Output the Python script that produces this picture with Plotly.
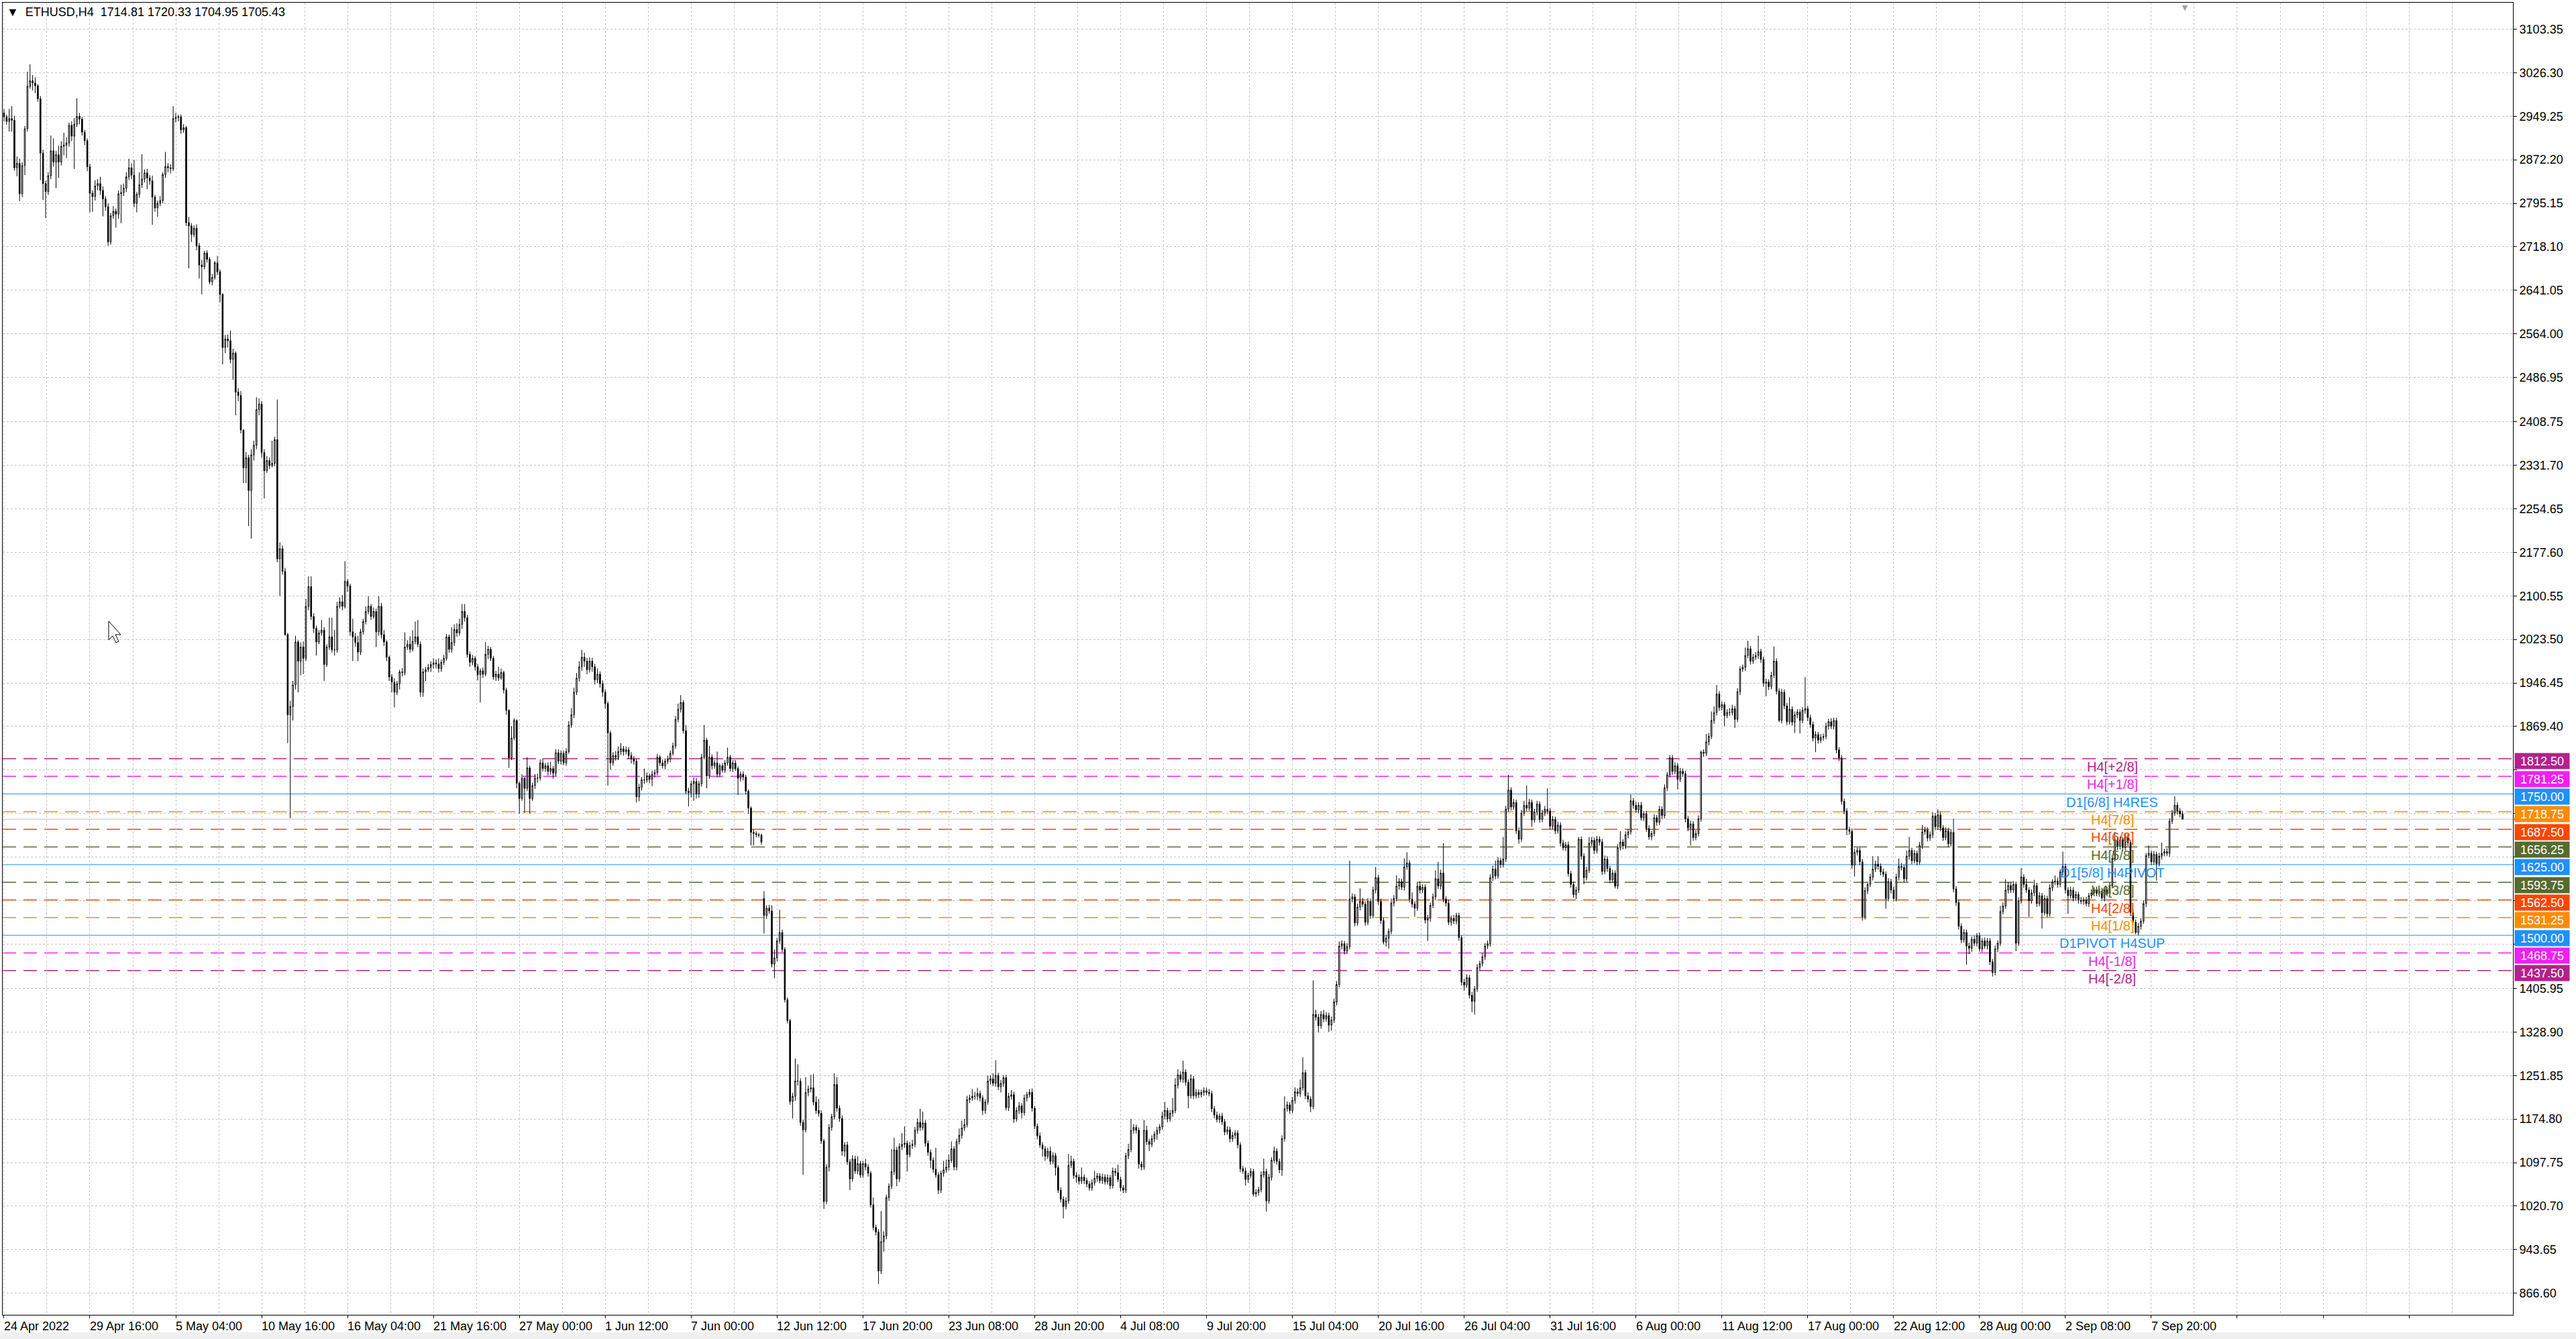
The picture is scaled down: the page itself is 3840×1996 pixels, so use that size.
import plotly.graph_objects as go

# ---------------- data ----------------
symbol_title = "ETHUSD,H4"
last_ohlc = [1714.81, 1720.33, 1704.95, 1705.43]
first_open = 2955.0
gap_opens = {292: 1565.0}

closes = [
    2948, 2940, 2945, 2942, 2858, 2866, 2812, 2862, 2927, 3002,
    3012, 3008, 3003, 2980, 2884, 2830, 2816, 2844, 2888, 2868,
    2881, 2868, 2896, 2898, 2902, 2933, 2914, 2935, 2949, 2944,
    2921, 2906, 2860, 2813, 2807, 2826, 2830, 2818, 2803, 2789,
    2727, 2773, 2781, 2776, 2812, 2814, 2822, 2842, 2858, 2845,
    2795, 2811, 2828, 2838, 2849, 2840, 2835, 2806, 2787, 2795,
    2800, 2846, 2860, 2858, 2856, 2945, 2947, 2948, 2925, 2929,
    2761, 2755, 2740, 2751, 2720, 2686, 2683, 2707, 2696, 2656,
    2664, 2690, 2674, 2634, 2540, 2555, 2552, 2519, 2530, 2461,
    2455, 2394, 2327, 2345, 2287, 2350, 2367, 2430, 2440, 2354,
    2322, 2340, 2331, 2335, 2377, 2166, 2184, 2144, 2032, 1890,
    1905, 1943, 2019, 1985, 2010, 1990, 2082, 2117, 2064, 2043,
    2019, 2035, 2040, 1979, 2010, 2028, 2005, 2005, 2082, 2090,
    2082, 2126, 2118, 2037, 2028, 2018, 2001, 2037, 2055, 2073,
    2082, 2064, 2073, 2037, 2082, 2032, 2019, 1992, 1957, 1948,
    1930, 1945, 1966, 1965, 2010, 2015, 2006, 2020, 2028, 2015,
    1930, 1966, 1970, 1974, 1979, 1982, 1980, 1972, 1983, 1990,
    2028, 2006, 2018, 2041, 2035, 2050, 2073, 2062, 1997, 1983,
    1990, 1975, 1961, 1968, 1962, 1997, 2006, 1990, 1957, 1962,
    1955, 1965, 1934, 1898, 1814, 1849, 1880, 1769, 1742, 1778,
    1760, 1796, 1742, 1765, 1778, 1778, 1805, 1795, 1800, 1790,
    1795, 1787, 1823, 1808, 1822, 1805, 1825, 1872, 1890, 1930,
    1955, 1975, 1992, 1985, 1970, 1985, 1975, 1952, 1962, 1945,
    1930, 1910, 1858, 1805, 1818, 1815, 1825, 1830, 1825, 1828,
    1818, 1812, 1808, 1745, 1762, 1775, 1775, 1782, 1776, 1785,
    1788, 1815, 1805, 1800, 1808, 1812, 1822, 1835, 1882, 1900,
    1912, 1862, 1755, 1752, 1768, 1772, 1750, 1768, 1815, 1845,
    1782, 1815, 1800, 1805, 1785, 1800, 1792, 1805, 1815, 1795,
    1805, 1795, 1778, 1785, 1780, 1755, 1725, 1682, 1680, 1678,
    1677, 1665, 1535, 1548, 1543, 1449, 1460, 1490, 1505, 1475,
    1386, 1349, 1206, 1215, 1242, 1242, 1169, 1156, 1222, 1228,
    1230, 1205, 1190, 1185, 1136, 1029, 1090, 1160, 1179, 1236,
    1194, 1176, 1118, 1129, 1099, 1069, 1104, 1083, 1096, 1076,
    1096, 1090, 1079, 1023, 983, 975, 906, 958, 968, 1036,
    1056, 1082, 1120, 1069, 1126, 1130, 1132, 1112, 1128, 1130,
    1155, 1169, 1160, 1168, 1132, 1116, 1102, 1086, 1076, 1049,
    1079, 1085, 1090, 1102, 1122, 1090, 1135, 1146, 1159, 1165,
    1209, 1212, 1215, 1215, 1220, 1212, 1190, 1205, 1242, 1246,
    1238, 1252, 1232, 1238, 1248, 1195, 1215, 1218, 1175, 1190,
    1198, 1186, 1212, 1218, 1222, 1194, 1162, 1145, 1129, 1122,
    1109, 1118, 1100, 1110, 1089, 1049, 1033, 1020, 1030, 1093,
    1100, 1075, 1072, 1065, 1072, 1066, 1060, 1053, 1062, 1070,
    1074, 1066, 1072, 1064, 1071, 1057, 1083, 1080, 1068, 1053,
    1049, 1110, 1121, 1155, 1160, 1155, 1095, 1090, 1155, 1135,
    1130, 1140, 1148, 1155, 1161, 1180, 1190, 1175, 1185, 1190,
    1235, 1253, 1245, 1258, 1240, 1216, 1246, 1216, 1222, 1218,
    1222, 1225, 1222, 1220, 1193, 1182, 1174, 1180, 1170, 1152,
    1156, 1140, 1146, 1150, 1129, 1087, 1083, 1068, 1075, 1082,
    1042, 1045, 1050, 1076, 1082, 1030, 1072, 1102, 1118, 1100,
    1085, 1140, 1193, 1200, 1190, 1208, 1223, 1220, 1230, 1257,
    1216, 1210, 1197, 1360, 1355, 1340, 1360, 1352, 1358, 1341,
    1350, 1382, 1413, 1481, 1485, 1472, 1480, 1564, 1568, 1522,
    1550, 1560, 1555, 1523, 1560, 1535, 1580, 1602, 1560, 1526,
    1488, 1495, 1507, 1557, 1565, 1587, 1595, 1585, 1621, 1628,
    1564, 1555, 1548, 1587, 1580, 1585, 1527, 1530, 1553, 1568,
    1600, 1587, 1610, 1564, 1557, 1523, 1530, 1525, 1535, 1496,
    1417, 1412, 1425, 1394, 1383, 1405, 1443, 1450, 1462, 1481,
    1485, 1602, 1617, 1605, 1632, 1625, 1635, 1723, 1757, 1727,
    1735, 1685, 1670, 1716, 1730, 1725, 1735, 1704, 1718, 1732,
    1705, 1716, 1723, 1720, 1693, 1705, 1685, 1695, 1663, 1655,
    1660, 1609, 1590, 1572, 1580, 1670, 1640, 1602, 1615, 1663,
    1668, 1650, 1670, 1665, 1613, 1635, 1618, 1598, 1610, 1587,
    1655, 1665, 1658, 1678, 1683, 1738, 1730, 1722, 1730, 1708,
    1715, 1689, 1674, 1680, 1708, 1700, 1723, 1712, 1761, 1784,
    1814, 1790, 1800, 1776, 1790, 1786, 1706, 1690, 1697, 1673,
    1680, 1706, 1824, 1822, 1842, 1852, 1880, 1894, 1927, 1903,
    1908, 1889, 1894, 1894, 1901, 1882, 1931, 1971, 1974, 1995,
    2007, 1985, 1992, 1995, 2002, 1988, 1946, 1948, 1940, 1960,
    1985, 1932, 1880, 1930, 1906, 1878, 1900, 1877, 1890, 1895,
    1880, 1898, 1901, 1885, 1873, 1849, 1855, 1845, 1850, 1852,
    1870, 1878, 1870, 1880, 1828, 1814, 1737, 1720, 1687, 1684,
    1624, 1647, 1650, 1630, 1533, 1579, 1590, 1603, 1617, 1626,
    1622, 1612, 1608, 1565, 1595, 1580, 1565, 1603, 1622, 1620,
    1600, 1640, 1650, 1632, 1645, 1630, 1659, 1683, 1686, 1672,
    1678, 1711, 1692, 1713, 1690, 1673, 1685, 1662, 1682, 1582,
    1558, 1516, 1492, 1505, 1481, 1477, 1493, 1486, 1499, 1476,
    1490, 1481, 1490, 1453, 1434, 1476, 1486, 1542, 1552, 1580,
    1588, 1580, 1590, 1486, 1561, 1603, 1590, 1580, 1561, 1575,
    1588, 1556, 1570, 1540, 1565, 1538, 1584, 1594, 1596, 1590,
    1612, 1622, 1580, 1570, 1580, 1566, 1572, 1562, 1560, 1562,
    1556, 1570, 1575, 1580, 1574, 1578, 1566, 1580, 1574, 1588,
    1636, 1669, 1657, 1669, 1655, 1674, 1664, 1540, 1523, 1505,
    1516, 1525, 1556, 1641, 1645, 1630, 1643, 1627, 1640, 1645,
    1648, 1645, 1702, 1716, 1730, 1720, 1714.81, 1705.43,
]

upper_wick = [
    7, 4, 17, 22, 8, 12, 8, 6, 5, 26,
    29, 10, 10, 3, 5, 6, 5, 6, 27, 22,
    7, 16, 9, 22, 10, 5, 7, 11, 32, 6,
    4, 4, 4, 5, 5, 10, 8, 12, 7, 5,
    6, 5, 9, 5, 6, 14, 8, 8, 16, 8,
    27, 4, 22, 44, 6, 7, 5, 9, 4, 5,
    8, 4, 26, 6, 6, 22, 8, 4, 4, 6,
    3, 10, 5, 5, 7, 5, 9, 4, 5, 4,
    6, 3, 12, 4, 2, 7, 8, 18, 8, 3,
    7, 8, 1, 10, 5, 10, 8, 22, 10, 5,
    6, 8, 5, 40, 5, 71, 11, 6, 6, 3,
    10, 7, 11, 3, 8, 10, 13, 18, 18, 6,
    5, 5, 18, 5, 5, 34, 34, 35, 8, 8,
    12, 36, 4, 4, 23, 7, 12, 5, 5, 9,
    18, 4, 7, 5, 18, 6, 8, 3, 3, 5,
    7, 5, 4, 7, 26, 7, 14, 20, 27, 30,
    5, 6, 5, 6, 6, 8, 6, 10, 5, 6,
    5, 4, 27, 9, 11, 10, 13, 13, 5, 5,
    6, 4, 5, 4, 6, 22, 6, 4, 4, 6,
    13, 7, 3, 4, 2, 21, 4, 2, 3, 7,
    2, 19, 4, 5, 7, 8, 6, 8, 5, 6,
    12, 5, 6, 6, 5, 5, 6, 7, 12, 8,
    9, 10, 13, 8, 6, 7, 6, 5, 10, 5,
    6, 5, 4, 4, 6, 8, 9, 10, 5, 6,
    5, 6, 5, 4, 6, 5, 20, 6, 4, 6,
    5, 6, 4, 6, 5, 6, 5, 6, 6, 10,
    13, 4, 10, 6, 5, 7, 6, 5, 6, 27,
    4, 20, 5, 5, 20, 4, 5, 5, 17, 4,
    5, 5, 4, 5, 5, 4, 3, 3, 5, 4,
    3, 3, 13, 5, 6, 10, 15, 5, 40, 5,
    4, 4, 3, 6, 40, 30, 5, 5, 27, 6,
    23, 25, 10, 20, 5, 4, 5, 6, 5, 20,
    13, 5, 5, 5, 6, 5, 7, 6, 13, 5,
    5, 8, 5, 4, 13, 5, 5, 54, 8, 5,
    5, 40, 22, 6, 6, 20, 30, 5, 6, 8,
    6, 7, 24, 20, 5, 5, 5, 5, 38, 5,
    5, 16, 13, 10, 13, 5, 5, 12, 13, 10,
    7, 6, 13, 8, 10, 5, 5, 5, 10, 6,
    10, 27, 5, 6, 5, 5, 6, 8, 5, 6,
    7, 5, 6, 5, 6, 7, 4, 5, 6, 5,
    5, 6, 8, 6, 5, 4, 5, 5, 6, 20,
    10, 5, 6, 5, 17, 5, 5, 5, 6, 13,
    5, 5, 6, 5, 6, 5, 6, 5, 14, 5,
    5, 5, 10, 20, 6, 5, 5, 5, 18, 8,
    5, 6, 5, 6, 5, 8, 15, 5, 6, 22,
    12, 10, 6, 20, 5, 5, 8, 5, 6, 5,
    5, 6, 5, 6, 5, 5, 6, 5, 6, 5,
    6, 5, 6, 5, 5, 5, 5, 6, 5, 6,
    5, 6, 5, 6, 23, 5, 6, 5, 8, 5,
    5, 6, 22, 6, 5, 6, 8, 6, 15, 27,
    5, 6, 5, 60, 8, 6, 6, 8, 6, 5,
    6, 6, 6, 8, 6, 5, 6, 68, 6, 5,
    6, 23, 6, 5, 6, 5, 6, 19, 5, 5,
    5, 6, 5, 8, 6, 19, 6, 5, 15, 19,
    5, 12, 5, 6, 8, 5, 5, 6, 5, 6,
    15, 30, 6, 53, 5, 6, 5, 6, 5, 5,
    4, 6, 6, 5, 6, 5, 6, 5, 6, 5,
    6, 6, 6, 15, 6, 5, 39, 6, 27, 5,
    6, 5, 6, 6, 8, 35, 6, 5, 6, 6,
    5, 6, 6, 37, 5, 6, 5, 6, 5, 6,
    5, 6, 5, 5, 6, 4, 5, 5, 6, 11,
    6, 5, 6, 5, 5, 6, 5, 5, 6, 5,
    6, 19, 5, 6, 5, 11, 5, 6, 5, 6,
    5, 5, 6, 5, 6, 5, 6, 5, 6, 5,
    5, 5, 6, 5, 6, 5, 5, 5, 6, 5,
    6, 6, 3, 5, 14, 6, 16, 11, 16, 5,
    6, 5, 6, 8, 7, 5, 6, 5, 5, 14,
    14, 5, 6, 6, 28, 5, 5, 6, 5, 6,
    26, 5, 5, 6, 5, 5, 21, 5, 6, 5,
    5, 6, 56, 5, 5, 5, 6, 5, 6, 5,
    6, 5, 6, 5, 5, 5, 5, 5, 5, 5,
    5, 6, 5, 5, 5, 6, 5, 6, 23, 6,
    14, 5, 6, 5, 6, 5, 6, 6, 14, 6,
    5, 10, 24, 5, 6, 5, 6, 12, 6, 5,
    6, 7, 5, 10, 5, 5, 6, 5, 6, 24,
    5, 5, 5, 6, 5, 6, 5, 6, 5, 6,
    5, 6, 5, 5, 5, 6, 5, 10, 6, 19,
    6, 5, 6, 5, 6, 16, 5, 10, 5, 6,
    10, 5, 6, 5, 6, 5, 6, 5, 10, 6,
    5, 26, 5, 5, 6, 5, 6, 5, 6, 5,
    6, 5, 6, 5, 6, 5, 6, 5, 6, 5,
    6, 14, 5, 6, 5, 6, 5, 5, 6, 5,
    6, 5, 6, 5, 14, 5, 6, 5, 6, 19,
    5, 6, 5, 6, 16, 5, 5, 5.52,
]

lower_wick = [
    8, 6, 18, 20, 5, 15, 13, 6, 17, 5,
    4, 13, 13, 5, 48, 29, 47, 6, 6, 8,
    46, 28, 6, 16, 23, 7, 9, 58, 5, 9,
    6, 8, 8, 34, 27, 7, 8, 8, 31, 7,
    7, 5, 5, 24, 8, 52, 6, 7, 6, 7,
    7, 16, 6, 6, 6, 20, 7, 49, 7, 16,
    5, 5, 6, 8, 8, 4, 7, 7, 7, 5,
    6, 75, 13, 5, 8, 24, 49, 5, 6, 4,
    6, 4, 6, 14, 30, 10, 12, 7, 36, 41,
    10, 6, 27, 27, 63, 85, 10, 7, 10, 9,
    49, 4, 6, 3, 5, 6, 66, 6, 2, 50,
    183, 25, 8, 55, 25, 28, 5, 7, 6, 8,
    24, 4, 5, 29, 4, 5, 5, 10, 5, 4,
    7, 4, 10, 7, 43, 8, 16, 5, 5, 5,
    5, 6, 4, 27, 7, 7, 7, 7, 7, 18,
    27, 5, 10, 7, 5, 5, 6, 4, 5, 5,
    8, 8, 16, 4, 8, 7, 8, 7, 6, 5,
    4, 6, 6, 6, 7, 5, 8, 7, 6, 8,
    5, 7, 10, 49, 7, 4, 8, 5, 5, 7,
    5, 3, 6, 8, 18, 4, 4, 9, 27, 4,
    44, 5, 27, 4, 6, 8, 4, 5, 6, 7,
    6, 10, 5, 5, 6, 4, 5, 4, 5, 6,
    5, 6, 7, 10, 8, 5, 9, 8, 6, 7,
    8, 9, 93, 12, 5, 6, 5, 6, 7, 5,
    6, 8, 6, 10, 8, 6, 7, 5, 7, 12,
    6, 5, 6, 5, 6, 5, 6, 4, 5, 5,
    6, 5, 5, 24, 8, 30, 8, 7, 5, 4,
    22, 5, 6, 5, 5, 5, 4, 5, 5, 5,
    6, 4, 30, 6, 6, 6, 10, 23, 21, 5,
    4, 5, 32, 6, 5, 6, 25, 6, 5, 5,
    5, 5, 6, 30, 8, 8, 6, 80, 5, 7,
    6, 6, 6, 6, 5, 13, 5, 8, 6, 5,
    6, 6, 8, 10, 5, 20, 5, 5, 6, 5,
    5, 6, 6, 5, 5, 6, 23, 5, 18, 6,
    6, 5, 6, 13, 6, 6, 6, 30, 5, 6,
    5, 6, 6, 5, 6, 6, 14, 6, 5, 7,
    5, 6, 5, 6, 5, 6, 6, 5, 6, 5,
    5, 6, 5, 6, 7, 6, 8, 6, 5, 6,
    5, 6, 6, 10, 6, 5, 6, 6, 7, 5,
    6, 10, 5, 6, 5, 6, 5, 6, 5, 14,
    8, 5, 6, 5, 14, 5, 6, 21, 5, 5,
    5, 6, 10, 6, 5, 6, 6, 5, 5, 5,
    6, 5, 6, 5, 5, 6, 5, 6, 5, 6,
    5, 5, 6, 5, 6, 6, 8, 6, 5, 6,
    12, 5, 6, 10, 6, 5, 6, 6, 5, 6,
    5, 6, 5, 6, 6, 22, 5, 6, 5, 6,
    5, 6, 5, 5, 6, 6, 5, 6, 6, 6,
    5, 6, 5, 6, 6, 6, 5, 11, 6, 5,
    4, 5, 6, 5, 5, 19, 5, 6, 5, 6,
    6, 11, 5, 5, 6, 5, 6, 5, 6, 5,
    6, 6, 10, 5, 6, 12, 5, 6, 5, 12,
    10, 5, 6, 5, 6, 6, 5, 5, 6, 6,
    5, 6, 5, 6, 5, 6, 5, 6, 6, 6,
    4, 8, 19, 5, 6, 5, 6, 5, 6, 5,
    6, 6, 15, 5, 6, 5, 6, 37, 6, 5,
    6, 5, 6, 6, 6, 5, 6, 5, 6, 6,
    6, 10, 5, 6, 19, 23, 5, 6, 5, 6,
    5, 5, 6, 6, 5, 6, 5, 5, 5, 6,
    5, 6, 8, 5, 5, 6, 5, 12, 5, 6,
    6, 5, 5, 6, 6, 5, 6, 5, 6, 5,
    6, 5, 6, 6, 8, 5, 6, 12, 5, 5,
    5, 6, 5, 6, 6, 5, 6, 6, 5, 4,
    5, 5, 6, 5, 6, 5, 6, 5, 6, 5,
    6, 6, 5, 6, 5, 6, 5, 6, 5, 6,
    5, 6, 5, 18, 5, 6, 6, 6, 31, 6,
    5, 5, 5, 6, 5, 6, 5, 6, 5, 6,
    5, 19, 5, 6, 5, 15, 5, 6, 5, 6,
    5, 6, 5, 5, 6, 6, 6, 23, 6, 5,
    5, 6, 3, 5, 6, 6, 5, 6, 19, 6,
    23, 5, 6, 6, 6, 6, 25, 6, 5, 6,
    5, 6, 5, 6, 6, 6, 6, 6, 10, 6,
    6, 20, 6, 6, 7, 5, 6, 5, 6, 5,
    6, 6, 5, 18, 5, 6, 5, 5, 6, 5,
    6, 5, 6, 6, 5, 6, 5, 6, 5, 6,
    5, 6, 6, 5, 6, 6, 5, 6, 5, 6,
    6, 6, 6, 5, 33, 10, 6, 5, 6, 5,
    6, 5, 6, 6, 7, 5, 6, 5, 5, 5,
    6, 5, 5, 14, 5, 5, 6, 5, 28, 5,
    6, 6, 5, 28, 5, 6, 5, 6, 5, 6,
    5, 6, 6, 32, 5, 6, 5, 6, 5, 6,
    5, 6, 5, 6, 5, 6, 5, 6, 5, 6,
    5, 5, 6, 5, 6, 5, 6, 6, 5, 3,
    5, 6, 5, 6, 5, 6, 5, 30, 5, 6,
    5, 5, 6, 5, 5, 6, 6, 0.48,
]

time_labels = [
    "24 Apr 2022", "29 Apr 16:00", "5 May 04:00", "10 May 16:00", "16 May 04:00",
    "21 May 16:00", "27 May 00:00", "1 Jun 12:00", "7 Jun 00:00", "12 Jun 12:00",
    "17 Jun 20:00", "23 Jun 08:00", "28 Jun 20:00", "4 Jul 08:00", "9 Jul 20:00",
    "15 Jul 04:00", "20 Jul 16:00", "26 Jul 04:00", "31 Jul 16:00", "6 Aug 00:00",
    "11 Aug 12:00", "17 Aug 00:00", "22 Aug 12:00", "28 Aug 00:00", "2 Sep 08:00",
    "7 Sep 20:00",
]
bars_per_label = 33

price_ticks = [3103.35, 3026.30, 2949.25, 2872.20, 2795.15, 2718.10, 2641.05, 2564.00,
               2486.95, 2408.75, 2331.70, 2254.65, 2177.60, 2100.55, 2023.50, 1946.45,
               1869.40, 1792.35, 1715.30, 1638.25, 1561.20, 1484.15, 1405.95, 1328.90,
               1251.85, 1174.80, 1097.75, 1020.70, 943.65, 866.60]
# tick labels covered by the level price boxes on the axis
covered_ticks = [1792.35, 1715.30, 1638.25, 1561.20, 1484.15]

level_values = [1812.50, 1781.25, 1750.00, 1718.75, 1687.50, 1656.25, 1625.00,
                1593.75, 1562.50, 1531.25, 1500.00, 1468.75, 1437.50]
level_names = ["H4[+2/8]", "H4[+1/8]", "D1[6/8] H4RES", "H4[7/8]", "H4[6/8]", "H4[5/8]",
               "D1[5/8] H4PIVOT", "H4[3/8]", "H4[2/8]", "H4[1/8]", "D1PIVOT H4SUP",
               "H4[-1/8]", "H4[-2/8]"]
level_colors = ["#B2228C", "#F020F0", "#1E90FF", "#FF8C00", "#FF4500", "#556B2F",
                "#1E90FF", "#556B2F", "#FF4500", "#FF8C00", "#1E90FF", "#F020F0", "#B2228C"]
level_solid = [False, False, True, False, False, False, True, False, False, False, True,
               False, False]

n = len(closes)
assert len(upper_wick) == n and len(lower_wick) == n, (n, len(upper_wick), len(lower_wick))

opens = [first_open] + closes[:-1]
for k, v in gap_opens.items():
    opens[k] = v
highs = [max(o, c) + w for o, c, w in zip(opens, closes, upper_wick)]
lows = [min(o, c) - w for o, c, w in zip(opens, closes, lower_wick)]
idx = list(range(n))

# ---------------- layout geometry ----------------
W, H = 3840, 1996
ML, MR, MT, MB = 4, 94, 4, 36
pw, ph = W - ML - MR, H - MT - MB
FONT = "Liberation Sans, Arial, sans-serif"
GRID = "#c4c4c4"


def px_to_paper(x, y):
    return (x - ML) / pw, (H - MB - y) / ph


fig = go.Figure()
fig.add_trace(go.Candlestick(
    x=idx, open=opens, high=highs, low=lows, close=closes,
    increasing=dict(line=dict(color="black", width=1), fillcolor="white"),
    decreasing=dict(line=dict(color="black", width=1), fillcolor="black"),
    whiskerwidth=0, hoverinfo="skip", showlegend=False,
))

label_pos = [k * bars_per_label for k in range(len(time_labels))]
extra_pos = [label_pos[-1] + bars_per_label * k for k in (1, 2, 3)]
mid_pos = [p + bars_per_label / 2 for p in label_pos + extra_pos]

shapes = []
annotations = []

# level lines
for v, c, solid in zip(level_values, level_colors, level_solid):
    shapes.append(dict(type="line", xref="paper", x0=0, x1=1, yref="y", y0=v, y1=v,
                       line=dict(color=c, width=1 if solid else 1.5,
                                 dash="solid" if solid else "20px,11px"),
                       layer="between"))
# current price line
shapes.append(dict(type="line", xref="paper", x0=0, x1=1, yref="y", y0=closes[-1], y1=closes[-1],
                   line=dict(color="#c0c0c0", width=1), layer="between"))
# current price marker on the axis (mostly hidden behind the level boxes)
shapes.append(dict(type="line", xref="paper", x0=1 + 2 / pw, x1=1 + 83 / pw, yref="y",
                   y0=closes[-1], y1=closes[-1], line=dict(color="black", width=3),
                   layer="above"))

# bottom grey window strip
x0p, y0p = px_to_paper(0, H)
x1p, y1p = px_to_paper(W, H - 10)
shapes.append(dict(type="rect", xref="paper", yref="paper", x0=x0p, x1=x1p, y0=y0p, y1=y1p,
                   fillcolor="#f0f0f0", line=dict(width=0), layer="below"))

# mouse cursor left on the chart
cursor_tip = (162, 926)
cursor_pts = [(0, 0), (0, 28), (6, 22), (11, 32), (15, 30), (10, 20), (18, 20)]
path = ""
for k, (dx, dy) in enumerate(cursor_pts):
    px, py = px_to_paper(cursor_tip[0] + dx, cursor_tip[1] + dy)
    path += ("M" if k == 0 else "L") + f"{px:.6f},{py:.6f}"
path += "Z"
shapes.append(dict(type="path", xref="paper", yref="paper", path=path,
                   fillcolor="white", line=dict(color="black", width=1), layer="above"))

# level labels in chart
label_x = 810
for v, name, c in zip(level_values, level_names, level_colors):
    annotations.append(dict(x=label_x, y=v, xref="x", yref="y", text=name, showarrow=False,
                            xanchor="center", yanchor="top", yshift=1,
                            font=dict(family=FONT, size=20, color=c)))

# price boxes on the axis
for v, c in zip(level_values, level_colors):
    annotations.append(dict(xref="paper", x=1, xanchor="left", xshift=2, yref="y", y=v,
                            yshift=-4, text=f"{v:.2f}", showarrow=False, bgcolor=c,
                            width=79, height=21, borderpad=1,
                            font=dict(family=FONT, size=18, color="white")))

# time labels (left aligned at tick)
for p, t in zip(label_pos, time_labels):
    annotations.append(dict(x=p, y=0, xref="x", yref="paper", text=t, showarrow=False,
                            xanchor="left", yanchor="top", yshift=-5, xshift=-2,
                            font=dict(family=FONT, size=18, color="black")))

# header
header = "▼\u00a0\u00a0" + symbol_title + "\u00a0\u00a0" + " ".join(f"{v:.2f}" for v in last_ohlc)
annotations.append(dict(xref="paper", yref="paper", x=4 / pw, y=1, xanchor="left", yanchor="top",
                        yshift=-2, text=header, showarrow=False,
                        font=dict(family=FONT, size=18, color="black")))
# chart shift marker
annotations.append(dict(xref="x", yref="paper", x=n, y=1, xanchor="center", yanchor="top",
                        yshift=3, text="▼", showarrow=False,
                        font=dict(family=FONT, size=14, color="#a0a0a0")))

bar_px = 3.88
x_left = -0.5
x_right = x_left + pw / bar_px

fig.update_layout(
    width=W, height=H,
    margin=dict(l=ML, r=MR, t=MT, b=MB, pad=0),
    paper_bgcolor="white", plot_bgcolor="white",
    font=dict(family=FONT, color="black"),
    showlegend=False,
    boxgap=0.4,
    shapes=shapes, annotations=annotations,
    hovermode=False,
    xaxis=dict(
        range=[x_left, x_right], rangeslider=dict(visible=False),
        tickmode="array", tickvals=label_pos + extra_pos, showticklabels=False,
        ticks="outside", ticklen=4, tickcolor="black",
        showgrid=True, gridcolor=GRID, griddash="3px,3px", gridwidth=1,
        minor=dict(tickmode="array", tickvals=mid_pos, showgrid=True, gridcolor=GRID,
                   griddash="3px,3px", gridwidth=1, ticks=""),
        showline=True, linecolor="black", linewidth=1, mirror=True, zeroline=False,
        fixedrange=True,
    ),
    yaxis=dict(
        range=[828.4, 3150.1], side="right",
        tickmode="array", tickvals=price_ticks,
        ticktext=["" if v in covered_ticks else f"{v:.2f}" for v in price_ticks],
        ticks="outside", ticklen=5, tickcolor="black",
        tickfont=dict(family=FONT, size=18, color="black"),
        showgrid=True, gridcolor=GRID, griddash="3px,3px", gridwidth=1,
        showline=True, linecolor="black", linewidth=1, mirror=True, zeroline=False,
        fixedrange=True,
    ),
)

fig.write_html("out.html", include_plotlyjs=True, full_html=True,
               config=dict(displayModeBar=False, staticPlot=True),
               post_script="document.body.style.margin='0';document.body.style.overflow='hidden';")
